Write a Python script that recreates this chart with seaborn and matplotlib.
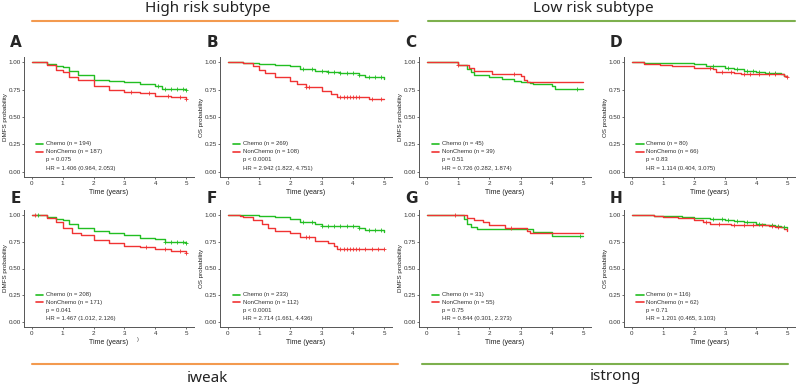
import numpy as np
import matplotlib
matplotlib.use("Agg")
import matplotlib.pyplot as plt
import seaborn as sns

sns.set_style("white")
plt.rcParams["font.family"] = ["Liberation Sans", "DejaVu Sans"]

W, H = 797, 388
CHEMO_COLOR = "#22BE22"
NON_COLOR   = "#F03333"

# ── survival curves (time in years, step values) ─────────────────
A_chemo_t = [0, 0.5, 0.8, 1.0, 1.2, 1.5, 2.0, 2.5, 3.0, 3.5, 4.0, 4.2, 5.0]
A_chemo_s = [1.0, 0.98, 0.965, 0.955, 0.92, 0.885, 0.84, 0.83, 0.815, 0.80, 0.78, 0.755, 0.75]
A_non_t   = [0, 0.5, 0.8, 1.0, 1.2, 1.5, 2.0, 2.5, 3.0, 3.5, 4.0, 4.5, 5.0]
A_non_s   = [1.0, 0.97, 0.93, 0.905, 0.86, 0.835, 0.78, 0.75, 0.725, 0.72, 0.69, 0.68, 0.665]
A_chemo_c = [4.1, 4.3, 4.5, 4.7, 4.9, 5.0]
A_non_c   = [3.2, 3.8, 4.4, 4.8, 5.0]

B_chemo_t = [0, 0.5, 1.0, 1.5, 2.0, 2.3, 2.8, 3.2, 3.6, 4.2, 4.4, 5.0]
B_chemo_s = [1.0, 0.995, 0.985, 0.975, 0.96, 0.935, 0.915, 0.905, 0.90, 0.88, 0.86, 0.85]
B_non_t   = [0, 0.5, 0.8, 1.0, 1.2, 1.5, 2.0, 2.2, 2.5, 3.0, 3.3, 3.5, 4.5, 5.0]
B_non_s   = [1.0, 0.99, 0.96, 0.93, 0.90, 0.86, 0.83, 0.80, 0.77, 0.74, 0.71, 0.68, 0.665, 0.665]
B_chemo_c = [2.4, 2.7, 3.0, 3.2, 3.4, 3.6, 3.8, 4.0, 4.2, 4.5, 4.7, 4.9]
B_non_c   = [2.5, 2.6, 3.6, 3.7, 3.8, 3.9, 4.0, 4.1, 4.2, 4.6, 4.9]

C_chemo_t = [0, 1.0, 1.3, 1.4, 1.5, 2.0, 2.4, 2.8, 3.0, 3.3, 3.4, 4.0, 4.1, 5.0]
C_chemo_s = [1.0, 0.97, 0.94, 0.91, 0.88, 0.865, 0.845, 0.83, 0.82, 0.81, 0.80, 0.78, 0.755, 0.755]
C_non_t   = [0, 1.0, 1.35, 1.5, 2.1, 3.0, 3.1, 3.2, 3.3, 5.0]
C_non_s   = [1.0, 0.97, 0.95, 0.92, 0.895, 0.87, 0.84, 0.82, 0.815, 0.815]
C_chemo_c = [4.8]
C_non_c   = [1.0, 2.8]

D_chemo_t = [0, 0.4, 2.0, 2.4, 3.0, 3.3, 3.6, 4.0, 4.3, 4.8, 4.9, 5.0]
D_chemo_s = [1.0, 0.995, 0.98, 0.96, 0.95, 0.94, 0.92, 0.91, 0.90, 0.89, 0.87, 0.86]
D_non_t   = [0, 0.4, 0.9, 1.3, 2.0, 2.6, 2.7, 3.3, 3.5, 4.8, 4.9, 5.0]
D_non_s   = [1.0, 0.98, 0.97, 0.96, 0.95, 0.94, 0.91, 0.90, 0.895, 0.89, 0.87, 0.86]
D_chemo_c = [2.6, 3.1, 3.4, 3.7, 3.9, 4.1, 4.4, 4.6]
D_non_c   = [2.5, 2.9, 3.2, 3.6, 3.8, 4.1, 4.4, 4.6, 5.0]

E_chemo_t = [0, 0.5, 0.8, 1.0, 1.2, 1.5, 2.0, 2.5, 3.0, 3.5, 4.0, 4.3, 5.0]
E_chemo_s = [1.0, 0.98, 0.96, 0.955, 0.92, 0.88, 0.85, 0.83, 0.81, 0.785, 0.775, 0.75, 0.74]
E_non_t   = [0, 0.5, 0.8, 1.0, 1.3, 1.6, 2.0, 2.5, 3.0, 3.5, 4.0, 4.5, 5.0]
E_non_s   = [1.0, 0.97, 0.93, 0.88, 0.83, 0.81, 0.77, 0.74, 0.71, 0.705, 0.68, 0.665, 0.645]
E_chemo_c = [0.2, 4.3, 4.5, 4.7, 4.9, 5.0]
E_non_c   = [0.1, 3.7, 4.3, 4.8, 5.0]

F_chemo_t = [0, 0.5, 1.0, 1.5, 2.0, 2.3, 2.8, 3.0, 4.2, 4.4, 5.0]
F_chemo_s = [1.0, 0.995, 0.99, 0.98, 0.96, 0.93, 0.915, 0.90, 0.88, 0.86, 0.845]
F_non_t   = [0, 0.4, 0.5, 0.8, 1.1, 1.3, 1.5, 2.0, 2.3, 2.8, 3.2, 3.4, 3.5, 5.0]
F_non_s   = [1.0, 0.99, 0.98, 0.95, 0.92, 0.88, 0.85, 0.83, 0.79, 0.76, 0.74, 0.71, 0.68, 0.68]
F_chemo_c = [2.4, 2.7, 3.0, 3.2, 3.4, 3.6, 3.8, 4.0, 4.2, 4.5, 4.7, 4.9]
F_non_c   = [2.5, 2.6, 3.6, 3.7, 3.8, 3.9, 4.0, 4.1, 4.2, 4.4, 4.6, 4.8, 5.0]

G_chemo_t = [0, 1.2, 1.3, 1.4, 1.6, 3.4, 4.0, 5.0]
G_chemo_s = [1.0, 0.96, 0.92, 0.89, 0.87, 0.84, 0.80, 0.80]
G_non_t   = [0, 1.3, 1.5, 1.8, 2.0, 2.5, 3.2, 3.3, 5.0]
G_non_s   = [1.0, 0.97, 0.95, 0.93, 0.91, 0.875, 0.85, 0.83, 0.83]
G_chemo_c = [4.9]
G_non_c   = [0.9, 2.7]

H_chemo_t = [0, 0.7, 1.6, 2.0, 2.5, 3.0, 3.3, 3.6, 4.0, 4.3, 4.6, 4.8, 5.0]
H_chemo_s = [1.0, 0.99, 0.98, 0.97, 0.96, 0.95, 0.94, 0.93, 0.92, 0.91, 0.90, 0.89, 0.875]
H_non_t   = [0, 0.7, 1.0, 1.5, 2.0, 2.3, 2.5, 3.2, 4.4, 4.6, 4.9, 5.0]
H_non_s   = [1.0, 0.99, 0.98, 0.97, 0.95, 0.93, 0.915, 0.91, 0.90, 0.89, 0.87, 0.85]
H_chemo_c = [2.6, 2.9, 3.1, 3.4, 3.7, 4.1, 4.5, 4.7, 4.9]
H_non_c   = [2.4, 2.8, 3.3, 3.6, 3.9, 4.2, 4.5, 4.7]

# ── legend/annotation text ───────────────────────────────────────
LETTERS  = ["A", "B", "C", "D", "E", "F", "G", "H"]
YLABELS  = ["DMFS probability", "OS probability"] * 4
N_CHEMO  = [194, 269, 45, 80, 208, 233, 31, 116]
N_NON    = [187, 108, 39, 66, 171, 112, 55, 62]
P_TEXT   = ["p = 0.075", "p < 0.0001", "p = 0.51", "p = 0.83",
            "p = 0.041", "p < 0.0001", "p = 0.75", "p = 0.71"]
HR_TEXT  = ["HR = 1.406 (0.964, 2.053)", "HR = 2.942 (1.822, 4.751)",
            "HR = 0.726 (0.282, 1.874)", "HR = 1.114 (0.404, 3.075)",
            "HR = 1.467 (1.012, 2.126)", "HR = 2.714 (1.661, 4.436)",
            "HR = 0.844 (0.301, 2.373)", "HR = 1.201 (0.465, 3.103)"]
X_TICKS  = [0, 1, 2, 3, 4, 5]
Y_TICKS  = [0.0, 0.25, 0.5, 0.75, 1.0]

CURVES = [
    (A_chemo_t, A_chemo_s, A_chemo_c, A_non_t, A_non_s, A_non_c),
    (B_chemo_t, B_chemo_s, B_chemo_c, B_non_t, B_non_s, B_non_c),
    (C_chemo_t, C_chemo_s, C_chemo_c, C_non_t, C_non_s, C_non_c),
    (D_chemo_t, D_chemo_s, D_chemo_c, D_non_t, D_non_s, D_non_c),
    (E_chemo_t, E_chemo_s, E_chemo_c, E_non_t, E_non_s, E_non_c),
    (F_chemo_t, F_chemo_s, F_chemo_c, F_non_t, F_non_s, F_non_c),
    (G_chemo_t, G_chemo_s, G_chemo_c, G_non_t, G_non_s, G_non_c),
    (H_chemo_t, H_chemo_s, H_chemo_c, H_non_t, H_non_s, H_non_c),
]

# axes boxes in pixels: (left, right, top, bottom)
COLS = [(24, 194), (220, 392), (419, 591), (624, 795)]
ROWS = [(56.5, 177.5), (209.6, 327.4)]
LETTER_DY = [14, 11]


def px_rect(l, r, t, b):
    return [l / W, 1 - b / H, (r - l) / W, (b - t) / H]


def step_value(t, s, x):
    idx = np.searchsorted(np.asarray(t), x, side="right") - 1
    return np.asarray(s)[np.clip(idx, 0, len(s) - 1)]


def draw_km(ax, i, width_px):
    ct, cs, cc, nt, ns, nc = CURVES[i]
    for t, s, c, color in [(ct, cs, cc, CHEMO_COLOR), (nt, ns, nc, NON_COLOR)]:
        sns.lineplot(x=t, y=s, ax=ax, color=color, linewidth=1.0,
                     drawstyle="steps-post", estimator=None, errorbar=None)
        sns.scatterplot(x=c, y=step_value(t, s, c), ax=ax, color=color,
                        marker="+", s=9, linewidth=0.6, zorder=3)

    # in-plot legend
    for y, color, label in [(0.255, CHEMO_COLOR, f"Chemo (n = {N_CHEMO[i]})"),
                            (0.185, NON_COLOR, f"NonChemo (n = {N_NON[i]})")]:
        ax.plot([0.15, 0.38], [y, y], color=color, linewidth=1.2)
        ax.text(0.47, y, label, fontsize=4.3, va="center", color="#333333")
    ax.text(0.47, 0.11, P_TEXT[i], fontsize=4.3, va="center", color="#333333")
    ax.text(0.47, 0.035, HR_TEXT[i], fontsize=4.3, va="center", color="#333333")

    ax.set_xlim(-0.25, 5.25)
    ax.set_ylim(-0.05, 1.05)
    ax.set_xticks(X_TICKS)
    ax.set_yticks(Y_TICKS)
    ax.set_yticklabels([f"{v:.2f}" for v in Y_TICKS])
    ax.tick_params(labelsize=4.5, length=1.5, width=0.6, pad=1,
                   colors="#555555", labelcolor="#333333", left=True, bottom=True)
    ax.set_xlabel("Time (years)", fontsize=5, labelpad=2, color="#222222")
    ax.set_ylabel(YLABELS[i], fontsize=4.5, color="#222222")
    ax.yaxis.set_label_coords(-16 / width_px, 0.5)
    ax.spines[["top", "right"]].set_visible(False)
    for sp in ["left", "bottom"]:
        ax.spines[sp].set_color("#555555")
        ax.spines[sp].set_linewidth(0.7)
    ax.grid(False)


fig = plt.figure(figsize=(W / 100, H / 100), dpi=100)

for i in range(8):
    r, c = divmod(i, 4)
    l, rr = COLS[c]
    t, b = ROWS[r]
    ax = fig.add_axes(px_rect(l, rr, t, b))
    draw_km(ax, i, rr - l)
    fig.text((l - 8) / W, 1 - (t - LETTER_DY[r]) / H, LETTERS[i], fontsize=11,
             fontweight="bold", ha="center", va="center",
             family=["DejaVu Sans"])

# group headers and divider lines
title_font = dict(fontsize=11, color="#222222", ha="center", va="center",
                  family=["Noto Sans", "DejaVu Sans"])
fig.text(208 / W, 1 - 8 / H, "High risk subtype", **title_font)
fig.text(593 / W, 1 - 8 / H, "Low risk subtype", **title_font)
fig.text(207 / W, 1 - 379 / H, "iweak", **title_font)
fig.text(615 / W, 1 - 377 / H, "istrong", **title_font)

fig.add_artist(plt.Line2D([32 / W, 398 / W], [1 - 21 / H] * 2, color="#F39A4F", linewidth=1.5))
fig.add_artist(plt.Line2D([428 / W, 795 / W], [1 - 21 / H] * 2, color="#7DB04E", linewidth=1.5))
fig.add_artist(plt.Line2D([32 / W, 398 / W], [1 - 364 / H] * 2, color="#F39A4F", linewidth=1.5))
fig.add_artist(plt.Line2D([422 / W, 788 / W], [1 - 364 / H] * 2, color="#7DB04E", linewidth=1.5))

# stray mark next to the E axis title
fig.text(138 / W, 1 - 340 / H, ")", fontsize=4, color="#444444", ha="center", va="center")

fig.savefig("out.png", dpi=100)
